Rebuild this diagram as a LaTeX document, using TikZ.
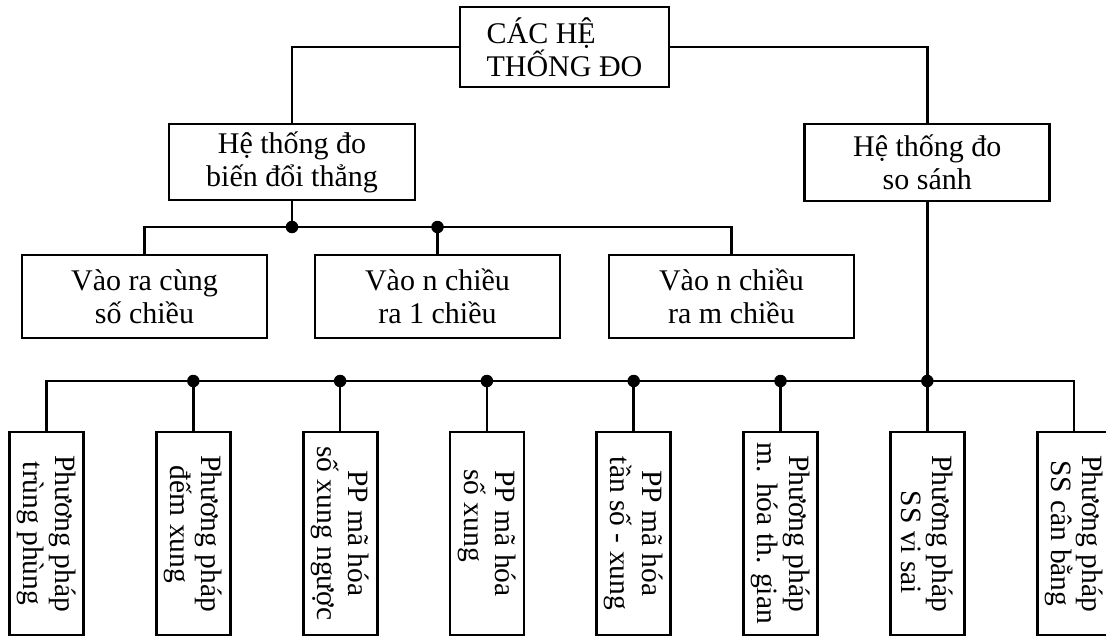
\documentclass[tikz,border=0pt]{standalone}
\usepackage{fontspec}
\setmainfont{Liberation Serif}
\begin{document}
\begin{tikzpicture}[x=1pt,y=-1pt,
  box/.style={draw, line width=2.8pt, inner sep=0pt, align=center, font=\fontsize{30}{33}\selectfont},
  vbox/.style={draw, line width=2.8pt, inner sep=0pt, minimum width=74pt, minimum height=203pt},
  vtext/.style={rotate=-90, inner sep=0pt, align=center, font=\fontsize{29.5}{31.5}\selectfont},
  conn/.style={line width=2.6pt},
  jdot/.style={circle, fill, inner sep=0pt, minimum size=12.5pt}]
\useasboundingbox (0,0) rectangle (1106,637);
\fill[white] (0,0) rectangle (1106,637);

% level 0
\node[box, align=left, font=\fontsize{30}{30}\selectfont, minimum width=209pt, minimum height=80pt] (top) at (564.5,47) {CÁC HỆ\\THỐNG ĐO};
% level 1
\node[box, minimum width=246pt, minimum height=76pt] (L) at (292,162) {Hệ thống đo\\biến đổi thẳng};
\node[box, minimum width=245pt, minimum height=77pt] (R) at (927.3,162.5) {Hệ thống đo\\so sánh};
% level 2
\node[box, minimum width=245pt, minimum height=83pt] (A1) at (144.5,296.5) {Vào ra cùng\\số chiều};
\node[box, minimum width=245pt, minimum height=83pt] (A2) at (437.5,296.5) {Vào n chiều\\ra 1 chiều};
\node[box, minimum width=245pt, minimum height=83pt] (A3) at (731.5,296.5) {Vào n chiều\\ra m chiều};
% level 3 boxes
\node[vbox] (P1) at (46.5,533.5) {};
\node[vbox] (P2) at (193.3,533.5) {};
\node[vbox] (P3) at (340.1,533.5) {};
\node[vbox] (P4) at (486.9,533.5) {};
\node[vbox] (P5) at (633.7,533.5) {};
\node[vbox] (P6) at (780.5,533.5) {};
\node[vbox] (P7) at (927.3,533.5) {};
\node[vbox] (P8) at (1074.1,533.5) {};
% level 3 texts
\node[vtext] (T1) at (P1.center) {Phương pháp\\trùng phùng};
\node[vtext] (T2) at (P2.center) {Phương pháp\\đếm xung\kern18pt};
\node[vtext] (T3) at (P3.center) {PP mã hóa\\số xung ngược};
\node[vtext] (T4) at (P4.center) {PP mã hóa\\số xung\kern36pt};
\node[vtext] (T5) at (P5.center) {PP mã hóa\\tần số - xung};
\node[vtext] (T6) at (P6.center) {Phương pháp\\m. hóa th. gian};
\node[vtext] (T7) at (P7.center) {Phương pháp\\\kern18pt SS vi sai};
\node[vtext] (T8) at (P8.center) {Phương pháp\\SS cân bằng};

% connectors level 0 -> 1
\draw[conn] (top.west) -| (L.north);
\draw[conn] (top.east) -| (R.north);

% bus 1
\coordinate (b1) at (292,227);
\draw[conn] (L.south) -- (b1);
\draw[conn] (A1.north) |- (A3.north |- b1) -- (A3.north);
\draw[conn] (A2.north) -- (A2.north |- b1);
\node[jdot] (d1) at (b1) {};
\node[jdot] (d2) at (A2.north |- b1) {};

% bus 2
\coordinate (b2) at (927.3,381);
\draw[conn] (R.south) -- (b2);
\draw[conn] (P1.north) |- (P8.north |- b2) -- (P8.north);
\foreach \i in {2,...,6} {
  \draw[conn] (P\i.north) -- (P\i.north |- b2);
  \node[jdot] (e\i) at (P\i.north |- b2) {};
}
\draw[conn] (P7.north) -- (b2);
\node[jdot] (e7) at (b2) {};
\end{tikzpicture}
\end{document}
